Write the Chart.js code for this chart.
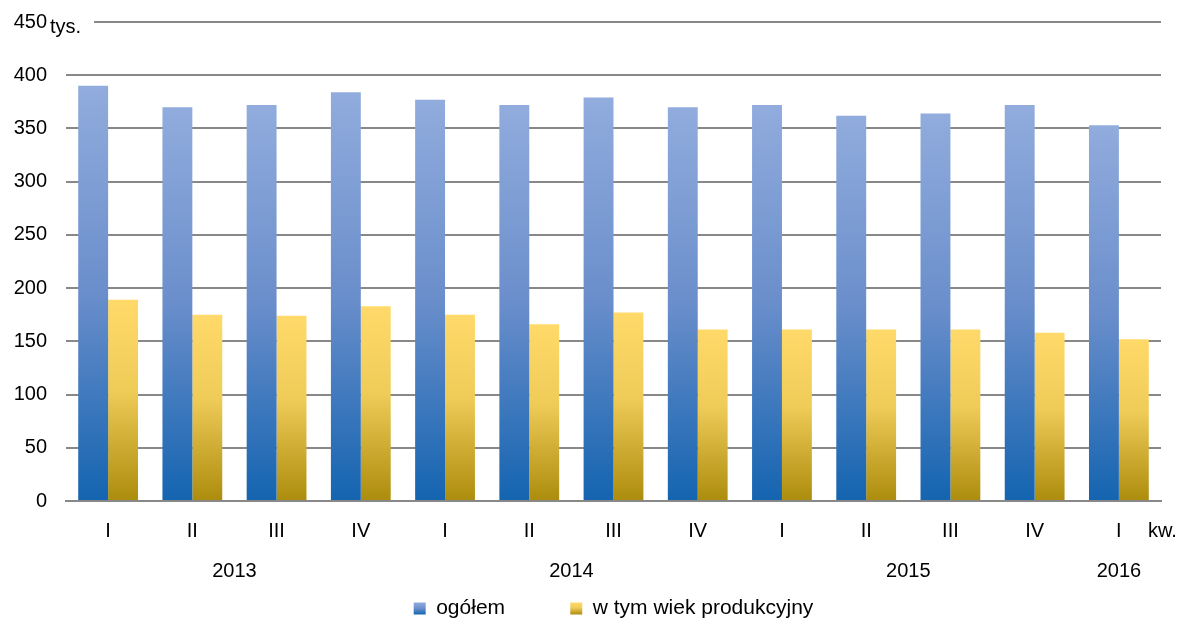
<!DOCTYPE html>
<html>
<head>
<meta charset="utf-8">
<script src="https://cdn.jsdelivr.net/npm/chart.js@4"></script>
<style>
  html, body { margin: 0; padding: 0; background: #fff; }
  #wrap { width: 1184px; height: 623px; }
</style>
</head>
<body>
<div id="wrap"><canvas id="chart"></canvas></div>
<script>
// dane (tys.)
const quarters = ['I', 'II', 'III', 'IV', 'I', 'II', 'III', 'IV', 'I', 'II', 'III', 'IV', 'I'];
const quarterYears = ['2013', '2013', '2013', '2013', '2014', '2014', '2014', '2014', '2015', '2015', '2015', '2015', '2016'];
const ogolem = [390, 370, 372, 384, 377, 372, 379, 370, 372, 362, 364, 372, 353];
const produkcyjny = [189, 175, 174, 183, 175, 166, 177, 161, 161, 161, 161, 158, 152];
const yTicks = [0, 50, 100, 150, 200, 250, 300, 350, 400, 450];

const FONT = "'Liberation Sans', Arial, sans-serif";
const FS = 20;

// gradient od wierzchołka słupka do osi
function barGradient(ctx, stops) {
    const chart = ctx.chart;
    if (!chart.chartArea || ctx.raw === undefined) return stops[stops.length - 1][1];
    const y = chart.scales.y;
    const top = y.getPixelForValue(ctx.raw);
    const base = y.getPixelForValue(0);
    const g = chart.ctx.createLinearGradient(0, top, 0, base);
    stops.forEach(s => g.addColorStop(s[0], s[1]));
    return g;
}

const blueStops = [[0, '#91ACDD'], [0.5, '#6A8ECB'], [1, '#1464B0']];
const yellowStops = [[0, '#FFDA6A'], [0.45, '#EFCB58'], [1, '#AC8C0C']];

// gradient w kwadracikach legendy
const legendGradient = {
    id: 'legendGradient',
    beforeDraw(chart) {
        const lg = chart.legend;
        if (!lg || !lg.legendHitBoxes) return;
        const all = [blueStops, yellowStops];
        lg.legendItems.forEach((item, i) => {
            const hb = lg.legendHitBoxes[i];
            if (!hb) return;
            const g = chart.ctx.createLinearGradient(0, hb.top + hb.height / 2 - 6, 0, hb.top + hb.height / 2 + 6);
            all[i].forEach(s => g.addColorStop(s[0], s[1]));
            item.fillStyle = g;
        });
    }
};

// podpisy lat i jednostek
const extraLabels = {
    id: 'extraLabels',
    afterDraw(chart) {
        const c = chart.ctx;
        const x = chart.scales.x;
        const area = chart.chartArea;
        c.save();
        c.font = FS + 'px ' + FONT;
        c.fillStyle = '#000';
        c.textBaseline = 'middle';
        c.textAlign = 'center';
        const groups = [];
        quarterYears.forEach((yr, i) => {
            let g = groups.find(o => o.year === yr);
            if (!g) { g = { year: yr, from: i, to: i }; groups.push(g); }
            g.to = i;
        });
        groups.forEach(g => {
            const px = (x.getPixelForValue(g.from) + x.getPixelForValue(g.to)) / 2;
            c.fillText(g.year, px, area.bottom + 70);
        });
        // "kw."
        c.textAlign = 'left';
        c.fillText('kw.', area.right - 13, area.bottom + 30);
        // "tys." z białym tłem na linii 450
        const y450 = chart.scales.y.getPixelForValue(450);
        c.fillStyle = '#fff';
        c.fillRect(area.left - 2, y450 - 10, 30, 20);
        c.fillStyle = '#000';
        c.fillText('tys.', area.left - 16, y450 + 5);
        c.restore();
    }
};

new Chart(document.getElementById('chart'), {
    type: 'bar',
    data: {
        labels: quarters,
        datasets: [{
            label: 'ogółem',
            data: ogolem,
            backgroundColor: ctx => barGradient(ctx, blueStops)
        }, {
            label: 'w tym wiek produkcyjny',
            data: produkcyjny,
            backgroundColor: ctx => barGradient(ctx, yellowStops)
        }]
    },
    options: {
        responsive: true,
        maintainAspectRatio: false,
        animation: false,
        layout: { padding: { left: 0, right: 23, top: 0, bottom: -6 } },
        datasets: {
            bar: { categoryPercentage: 0.71, barPercentage: 1.0 }
        },
        plugins: {
            tooltip: { enabled: false },
            legend: {
                position: 'bottom',
                fullSize: false,
                labels: {
                    font: { family: FONT, size: 21 },
                    color: '#000',
                    boxWidth: 12,
                    boxHeight: 12,
                    padding: 1,
                    generateLabels(chart) {
                        const solid = ['#4F7FC4', '#D9B43C'];
                        return chart.data.datasets.map((d, i) => ({
                            text: d.label + (i === 0 ? '           ' : ''),
                            fillStyle: solid[i],
                            strokeStyle: solid[i],
                            lineWidth: 0,
                            datasetIndex: i
                        }));
                    }
                }
            }
        },
        scales: {
            x: {
                grid: { display: false, drawTicks: false },
                border: { display: true, color: '#888', width: 2 },
                ticks: {
                    font: { family: FONT, size: FS },
                    color: '#000',
                    padding: 18,
                    maxRotation: 0
                },
                afterFit(scale) { scale.height += 36; }
            },
            y: {
                min: 0,
                max: 450,
                afterBuildTicks(scale) { scale.ticks = yTicks.map(v => ({ value: v })); },
                afterFit(scale) { scale.width = 66; scale.paddingTop = 22; },
                grid: { color: '#888', lineWidth: 2, drawTicks: false },
                border: { display: false },
                ticks: {
                    font: { family: FONT, size: FS },
                    color: '#000',
                    padding: 19
                }
            }
        }
    },
    plugins: [legendGradient, extraLabels]
});
</script>
</body>
</html>
